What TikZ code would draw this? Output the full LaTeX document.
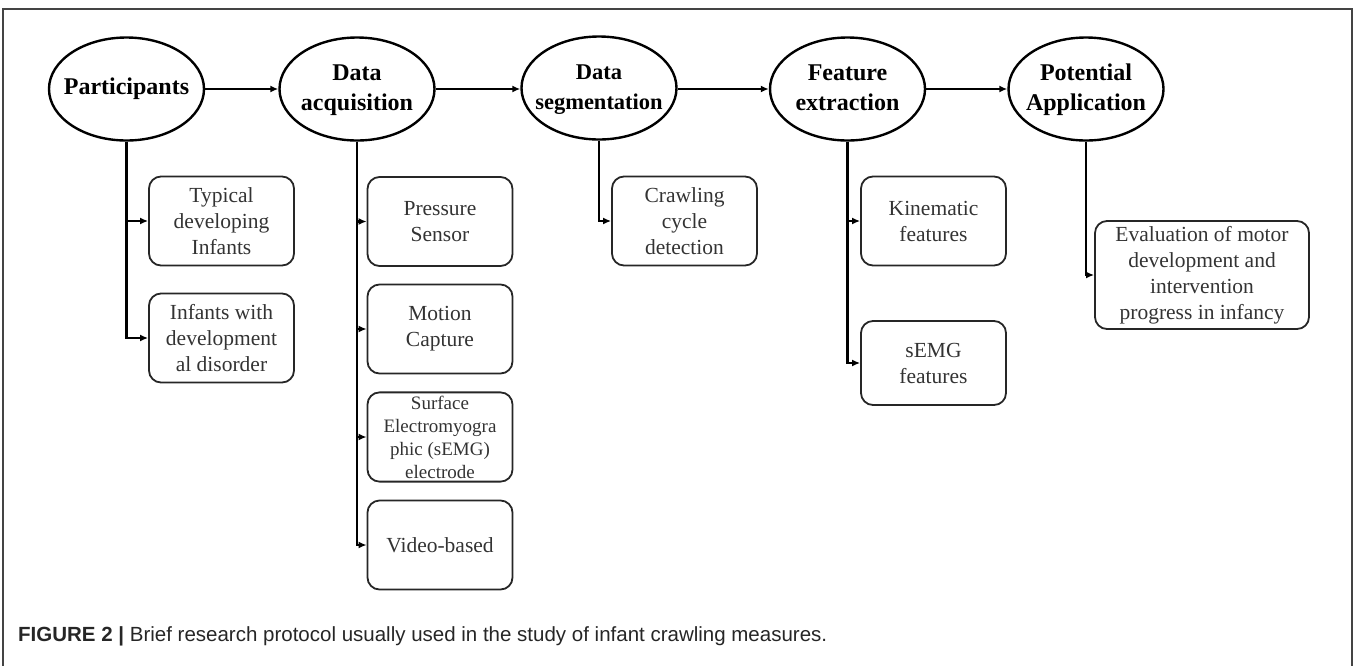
\documentclass[tikz,border=0pt]{standalone}
\usepackage{fontspec}
\setmainfont{Liberation Serif}
\newfontfamily\capfont{Liberation Sans}
\usetikzlibrary{shapes.geometric,arrows.meta}
\definecolor{boxtext}{HTML}{333333}
\definecolor{framecol}{HTML}{444444}
\newcommand{\stagetext}[1]{\raisebox{4pt}{\makebox[0pt][c]{\begin{tabular}{@{}c@{}}#1\end{tabular}}}}
\tikzset{
  stage/.style={ellipse, draw=black, line width=2.4pt, inner sep=0pt,
    minimum width=155, minimum height=103, align=center,
    font=\fontsize{24}{30}\selectfont\bfseries},
  itembox/.style={draw=black!85, line width=1.8pt, rounded corners=12pt,
    minimum width=145, minimum height=89, align=center, text=boxtext,
    font=\fontsize{21.5}{26}\selectfont},
  link/.style={line width=2.4pt, -{Latex[length=8pt,width=7pt]}},
  branch/.style={line width=2.4pt, -{Latex[length=8pt,width=7pt]}},
}
\begin{document}
\begin{tikzpicture}[x=1pt,y=-1pt]
\useasboundingbox (0,0) rectangle (1354,665);
% frame
\draw[framecol, line width=1.3pt] (3,670) -- (3,9) -- (1352,9) -- (1352,670);
% stages
\node[stage] (P)  at (126.5,89) {\makebox[0pt][c]{Participants}};
\node[stage] (DA) at (357,89) {\stagetext{Data\\acquisition}};
\node[stage, font=\fontsize{22.5}{30}\selectfont\bfseries] (DS) at (599,88) {\stagetext{Data\\segmentation}};
\node[stage] (FE) at (847.5,89) {\stagetext{Feature\\extraction}};
\node[stage] (PA) at (1086,89) {\stagetext{Potential\\Application}};
\draw[link] (P) -- (DA);
\draw[link] (DA) -- (DA -| DS.west);
\draw[link] (DS.east |- DA) -- (FE);
\draw[link] (FE) -- (PA);
% participants
\node[itembox] (T) at (221.5,221) {Typical\\developing\\Infants};
\node[itembox] (I) at (221.5,338) {Infants with\\development\\al disorder};
\draw[branch] (P.south) |- (T.west);
\draw[branch] (P.south) |- (I.west);
% acquisition
\node[itembox] (PS) at (440,221.5) {Pressure\\Sensor};
\node[itembox] (MC) at (440,329) {Motion\\Capture};
\node[itembox, font=\fontsize{19}{23}\selectfont] (SE) at (440,437) {Surface\\Electromyogra\\phic (sEMG)\\electrode};
\node[itembox] (VB) at (440,545) {Video-based};
\draw[branch] (DA.south) |- (PS.west);
\draw[branch] (DA.south) |- (MC.west);
\draw[branch] (DA.south) |- (SE.west);
\draw[branch] (DA.south) |- (VB.west);
% segmentation
\node[itembox] (CC) at (684.5,221) {Crawling\\cycle\\detection};
\draw[branch] (DS.south) |- (CC.west);
% features
\node[itembox] (KF) at (933.5,221) {Kinematic\\features};
\node[itembox, minimum height=84] (SF) at (933.5,363) {sEMG\\features};
\draw[branch] (FE.south) |- (KF.west);
\draw[branch] (FE.south) |- (SF.west);
% application
\node[itembox, minimum width=214, minimum height=108] (EV) at (1202,275) {Evaluation of motor\\development and\\intervention\\progress in infancy};
\draw[branch] (PA.south) |- (EV.west);
% caption
\node[anchor=west, inner sep=0pt, text=black!85, font=\capfont\fontsize{20.5}{24}\selectfont] (cap) at (18,636)
  {\textbf{FIGURE 2 |} Brief research protocol usually used in the study of infant crawling measures.};
\end{tikzpicture}
\end{document}
